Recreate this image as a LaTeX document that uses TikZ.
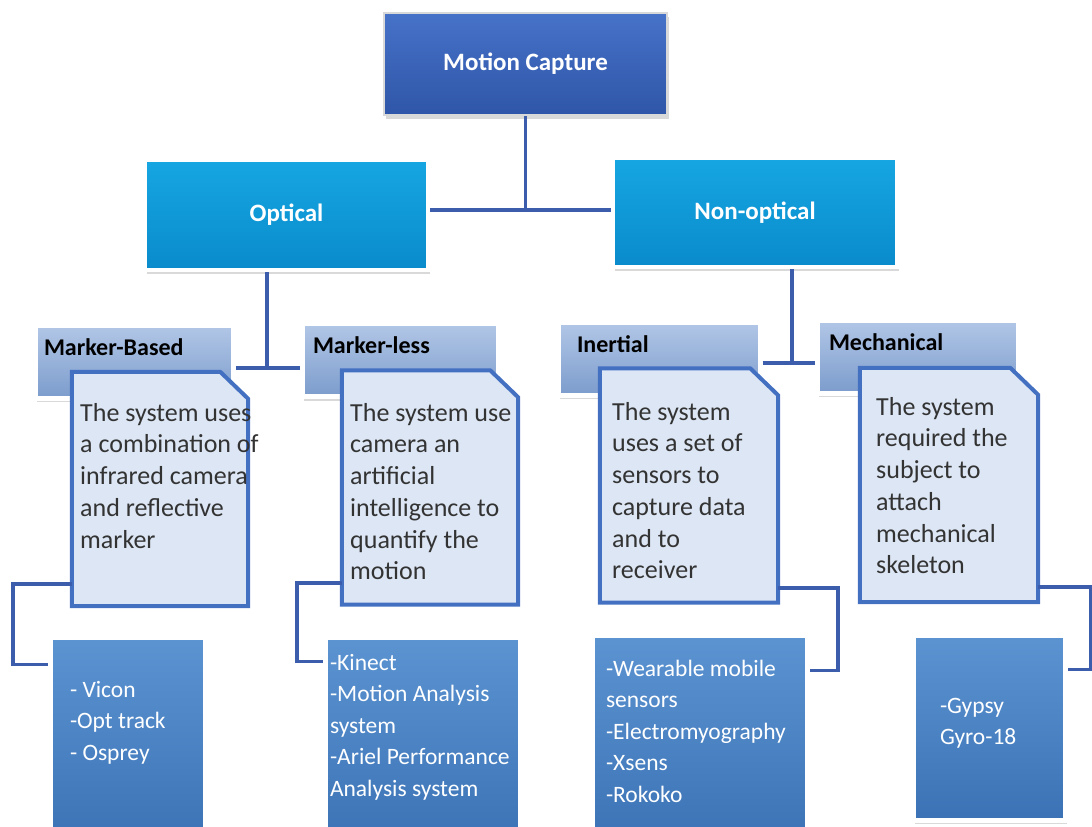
\documentclass[tikz,border=0pt]{standalone}
\usepackage{fontspec}
\setmainfont{Carlito}
\usetikzlibrary{shadows}

\definecolor{capblue}{HTML}{4672C8}
\definecolor{capbluedk}{HTML}{2F56A8}
\definecolor{skyblue}{HTML}{16A6E2}
\definecolor{skybluedk}{HTML}{0A8BCB}
\definecolor{paletop}{HTML}{B2C7E7}
\definecolor{palebot}{HTML}{7C9CCC}
\definecolor{notefill}{HTML}{DCE6F4}
\definecolor{noteline}{HTML}{4470C2}
\definecolor{listtop}{HTML}{5C94D2}
\definecolor{listbot}{HTML}{3B72B5}
\definecolor{linkblue}{HTML}{3C5DAC}
\definecolor{notegray}{HTML}{333333}

\begin{document}
\begin{tikzpicture}[x=1pt, y=-1pt,
  softshadow/.style={drop shadow={opacity=0.3, shadow xshift=2pt, shadow yshift=-4pt}},
  capbox/.style={draw=black!15, line width=1.5pt, softshadow, top color=capblue, bottom color=capbluedk,
    text=white, font=\fontsize{25}{30}\selectfont\bfseries},
  typebox/.style={draw=white, line width=4pt, softshadow, top color=skyblue, bottom color=skybluedk,
    text=white, font=\fontsize{25}{30}\selectfont\bfseries},
  subbox/.style={draw=white, line width=5pt, softshadow, top color=paletop, bottom color=palebot,
    font=\fontsize{24}{29}\selectfont\bfseries, align=flush left, inner sep=0pt,
    text height=30pt, text depth=43pt, minimum height=73pt},
  notearea/.style={inner sep=0pt, minimum height=234pt},
  notebox/.style={draw=noteline, line width=4pt, fill=notefill, line join=miter},
  notetext/.style={anchor=north west, align=left, inner sep=0pt, text=notegray,
    font=\fontsize{26}{31.7}\selectfont},
  listbox/.style={draw=white, line width=5pt, softshadow, top color=listtop, bottom color=listbot,
    text=white, align=flush left, inner sep=0pt, font=\fontsize{23.5}{31.5}\selectfont},
  link/.style={draw=linkblue, line width=3.5pt}]

\useasboundingbox (0,0) rectangle (1092,827);
\clip (0,0) rectangle (1092,827);

% top level
\node[capbox, minimum width=283pt, minimum height=102pt] (mc) at (525.5,64) {Motion Capture};

% optical / non-optical
\node[typebox, minimum width=283pt, minimum height=110pt] (opt) at (286.5,215) {Optical};
\node[typebox, minimum width=284pt, minimum height=109pt] (nopt) at (755,212.5) {Non-optical};

\coordinate (topjoin) at (525,210);
\draw[link] (mc.south) -- (mc.south |- topjoin);
\draw[link] (opt.east |- topjoin) -- (nopt.west |- topjoin);

% sub types
\node[subbox, minimum width=198pt, text width=180pt] (mb) at (134,361.5) {Marker-Based};
\node[subbox, minimum width=196pt, text width=174pt] (ml) at (400,360) {Marker-less};
\node[subbox, minimum width=202pt, text width=164pt] (inr) at (659,358.5) {Inertial};
\node[subbox, minimum width=201pt, text width=177pt] (mech) at (917.5,356.5) {Mechanical};

\coordinate (optjoin) at (267,368);
\draw[link] (opt.south -| optjoin) -- (optjoin);
\draw[link] (mb.east |- optjoin) -- (ml.west |- optjoin);

\coordinate (noptjoin) at (792,363);
\draw[link] (nopt.south -| noptjoin) -- (noptjoin);
\draw[link] (inr.east |- noptjoin) -- (mech.west |- noptjoin);

% notes (cut corner at top right)
\node[notearea, minimum width=176pt] (mbnote) at (160,489) {};
\node[notearea, minimum width=176pt] (mlnote) at (430,487.5) {};
\node[notearea, minimum width=178pt] (inrnote) at (689,485.5) {};
\node[notearea, minimum width=178pt] (mechnote) at (949,485) {};
\foreach \n in {mbnote,mlnote,inrnote,mechnote}
  \draw[notebox] (\n.north west) -- ([xshift=-28pt]\n.north east)
    -- ([yshift=-27pt]\n.north east) -- (\n.south east) -- (\n.south west) -- cycle;

\node[notetext] (mbtext) at (80,403)
  {The system uses\\a combination of\\infrared camera\\and reflective\\marker};
\node[notetext] (mltext) at (350,403)
  {The system use\\camera an\\artificial\\intelligence to\\quantify the\\motion};
\node[notetext] (inrtext) at (612,402)
  {The system\\uses a set of\\sensors to\\capture data\\and to\\receiver};
\node[notetext] (mechtext) at (876,397)
  {The system\\required the\\subject to\\attach\\mechanical\\skeleton};

% examples
\node[listbox, minimum width=155pt, minimum height=208pt, text width=115pt,
  text height=60pt, text depth=148pt] (vicon) at (127.5,741)
  {- Vicon\\-Opt track\\- Osprey};
\node[listbox, minimum width=195pt, minimum height=208pt, text width=185pt,
  text height=33pt, text depth=175pt] (kinect) at (422.5,741)
  {-Kinect\\-Motion Analysis\\system\\-Ariel Performance\\Analysis system};
\node[listbox, minimum width=215pt, minimum height=210pt, text width=187pt,
  text height=41pt, text depth=169pt] (wear) at (699.5,740)
  {-Wearable mobile\\sensors\\-Electromyography\\-Xsens\\-Rokoko};
\node[listbox, minimum width=152pt, minimum height=185pt, text width=98pt,
  text height=78pt, text depth=107pt] (gypsy) at (989,727.5)
  {-Gypsy\\Gyro-18};

\draw[link] ([yshift=-95pt]mbnote.west) -- ++(-59,0) |- ([yshift=-30pt]vicon.north west);
\draw[link] ([yshift=-95.5pt]mlnote.west) -- ++(-45,0) |- ([yshift=-27pt]kinect.north west);
\draw[link] ([yshift=-102.5pt]inrnote.east) -- ++(60,0) |- ([yshift=-38pt]wear.north east);
\draw[link] ([yshift=-102pt]mechnote.east) -- ++(53,0) |- ([yshift=-37pt]gypsy.north east);

\end{tikzpicture}
\end{document}
